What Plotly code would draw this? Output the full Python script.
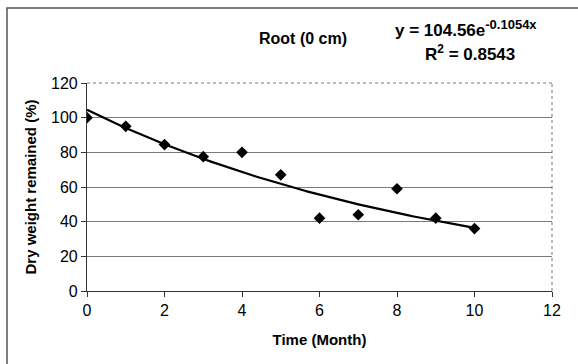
import numpy as np
import plotly.graph_objects as go

# Data
months = [0, 1, 2, 3, 4, 5, 6, 7, 8, 9, 10]
dry_weight = [100, 95, 84.5, 77.5, 80, 67, 42, 44, 59, 42, 36]

# Exponential trendline coefficients (as shown on the chart)
trend_a = 104.56
trend_b = -0.1054
trend_x = np.linspace(0, 10, 101)
trend_y = trend_a * np.exp(trend_b * trend_x)

x_ticks = [0, 2, 4, 6, 8, 10, 12]
y_ticks = [0, 20, 40, 60, 80, 100, 120]

W, H = 578, 364
L, R, T, B = 87, 552, 83, 291  # plot area in pixels


def px(xp):
    return (xp - L) / (R - L)


def py(yp):
    return (B - yp) / (B - T)


fig = go.Figure()
fig.add_trace(go.Scatter(x=trend_x, y=trend_y, mode="lines",
                         line=dict(color="black", width=2.2), showlegend=False,
                         hoverinfo="skip"))
fig.add_trace(go.Scatter(x=months, y=dry_weight, mode="markers",
                         marker=dict(symbol="diamond", size=9, color="black"),
                         showlegend=False))

font = "Liberation Sans, Arial, sans-serif"

fig.update_layout(
    width=W, height=H,
    margin=dict(l=L, r=W - R, t=T, b=H - B),
    paper_bgcolor="white", plot_bgcolor="white",
    font=dict(family=font, color="black", size=16),
    xaxis=dict(range=[0, 12], tickvals=x_ticks, ticks="outside", ticklen=5,
               tickcolor="#333", showline=True, linecolor="#333", linewidth=1.2,
               showgrid=False, zeroline=False, tickfont=dict(size=16),
               title=dict(text="<b>Time (Month)</b>", font=dict(size=15), standoff=16)),
    yaxis=dict(range=[0, 120], tickvals=y_ticks, ticks="outside", ticklen=5,
               tickcolor="#333", showline=True, linecolor="#333", linewidth=1.2,
               showgrid=True, gridcolor="#7a7a7a", gridwidth=1, zeroline=False,
               tickfont=dict(size=16),
               title=dict(text="<b>Dry weight remained (%)</b>", font=dict(size=15), standoff=10)),
)

# Plot area top and right borders (dotted)
fig.add_shape(type="line", xref="paper", yref="paper", x0=0, x1=1, y0=1, y1=1,
              line=dict(color="#777", width=1, dash="dot"))
fig.add_shape(type="line", xref="paper", yref="paper", x0=1, x1=1, y0=0, y1=1,
              line=dict(color="#777", width=1, dash="dot"))

# Outer chart border (partially cropped)
fig.add_shape(type="rect", xref="paper", yref="paper",
              x0=px(7), x1=px(600), y0=py(8), y1=py(400),
              line=dict(color="#555", width=1.5), layer="below")

fig.add_annotation(xref="paper", yref="paper", x=px(303), y=py(38),
                   text="<b>Root (0 cm)</b>", showarrow=False,
                   font=dict(size=16), xanchor="center", yanchor="middle")
fig.add_annotation(xref="paper", yref="paper", x=px(393), y=py(28),
                   text="<b>y = 104.56e<sup><span style=\"font-size:13px\">-0.1054x</span></sup></b>",
                   showarrow=False,
                   font=dict(size=17), xanchor="left", yanchor="middle")
fig.add_annotation(xref="paper", yref="paper", x=px(423), y=py(53),
                   text="<b>R<sup>2</sup> = 0.8543</b>", showarrow=False,
                   font=dict(size=17), xanchor="left", yanchor="middle")

fig.write_html("out.html")
